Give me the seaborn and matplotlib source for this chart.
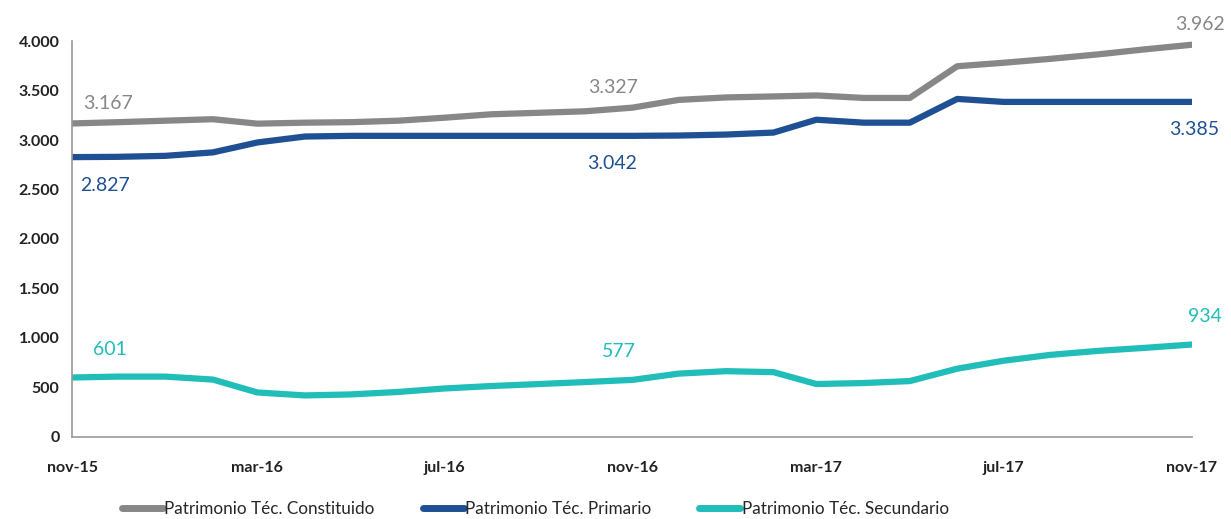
import pandas as pd
import numpy as np
import matplotlib
matplotlib.use('Agg')
import matplotlib.pyplot as plt
import seaborn as sns

# monthly values, nov-15 .. nov-17
months = pd.date_range('2015-11-01', '2017-11-01', freq='MS')
constituido = [3167, 3180, 3195, 3210, 3165, 3175, 3180, 3195, 3225, 3260, 3275, 3290, 3327,
               3405, 3430, 3440, 3450, 3425, 3425, 3745, 3780, 3820, 3865, 3915, 3962]
primario = [2827, 2830, 2840, 2875, 2975, 3035, 3042, 3042, 3042, 3042, 3042, 3042, 3042,
            3045, 3055, 3075, 3205, 3175, 3175, 3415, 3385, 3385, 3385, 3385, 3385]
secundario = [601, 610, 610, 580, 450, 420, 430, 455, 490, 515, 535, 555, 577,
              640, 665, 655, 535, 545, 565, 690, 770, 830, 870, 900, 934]

series_names = ['Patrimonio Téc. Constituido', 'Patrimonio Téc. Primario', 'Patrimonio Téc. Secundario']
colors = ['#878787', '#1f5094', '#21bdb9']
tick_labels = ['nov-15', 'mar-16', 'jul-16', 'nov-16', 'mar-17', 'jul-17', 'nov-17']

df = pd.DataFrame({'Fecha': months,
                   series_names[0]: constituido,
                   series_names[1]: primario,
                   series_names[2]: secundario})
long_df = df.melt(id_vars='Fecha', var_name='Serie', value_name='Valor')

sns.set_style('white')
plt.rcParams['font.family'] = ['Lato', 'DejaVu Sans']

fig = plt.figure(figsize=(12.31, 5.19), dpi=100)
ax = fig.add_axes([0.0585, 0.158, 0.9095, 0.763])

sns.lineplot(data=long_df, x='Fecha', y='Valor', hue='Serie', hue_order=series_names,
             palette=colors, linewidth=4.5, ax=ax, legend=False)

ax.set_xlim(months[0], months[-1])
ax.set_ylim(0, 4000)
ax.set_yticks(np.arange(0, 4001, 500))
ax.set_yticklabels([f'{v:,}'.replace(',', '.') for v in range(0, 4001, 500)],
                   fontsize=11.5, fontweight='bold', color='#222222')
ax.set_xticks(months[::4])
ax.set_xticklabels(tick_labels, fontsize=11.5, fontweight='bold', color='#222222')
ax.tick_params(axis='both', direction='out', length=5, color='#999999', width=1)
ax.tick_params(axis='x', pad=12)
ax.tick_params(axis='y', pad=4)
for s in ['top', 'right']:
    ax.spines[s].set_visible(False)
for s in ['left', 'bottom']:
    ax.spines[s].set_color('#999999')
    ax.spines[s].set_linewidth(1.2)
ax.set_xlabel('')
ax.set_ylabel('')

def fmt(v):
    return f'{v:,}'.replace(',', '.')

# data labels (index, series, offset in pixels)
labels = [
    (0, constituido, colors[0], 36, 20),
    (12, constituido, colors[0], -20, 20),
    (24, constituido, colors[0], 8, 20),
    (0, primario, colors[1], 33, -28),
    (12, primario, colors[1], -21, -28),
    (24, primario, colors[1], 3, -28),
    (0, secundario, colors[2], 38, 28),
    (12, secundario, colors[2], -14, 28),
    (24, secundario, colors[2], 13, 28),
]
for i, vals, c, dx, dy in labels:
    ax.annotate(fmt(vals[i]), xy=(months[i], vals[i]), xytext=(dx, dy),
                textcoords='offset pixels', ha='center', va='center',
                fontsize=14, color=c, annotation_clip=False)

handles = [plt.Line2D([0], [0], color=c, lw=5) for c in colors]
fig.legend(handles, series_names, loc='center', bbox_to_anchor=(0.435, 0.02), ncol=3,
           frameon=False, fontsize=12.3, handlelength=2.4, handletextpad=0.1,
           columnspacing=2.8)

fig.savefig('out.png', dpi=100)
